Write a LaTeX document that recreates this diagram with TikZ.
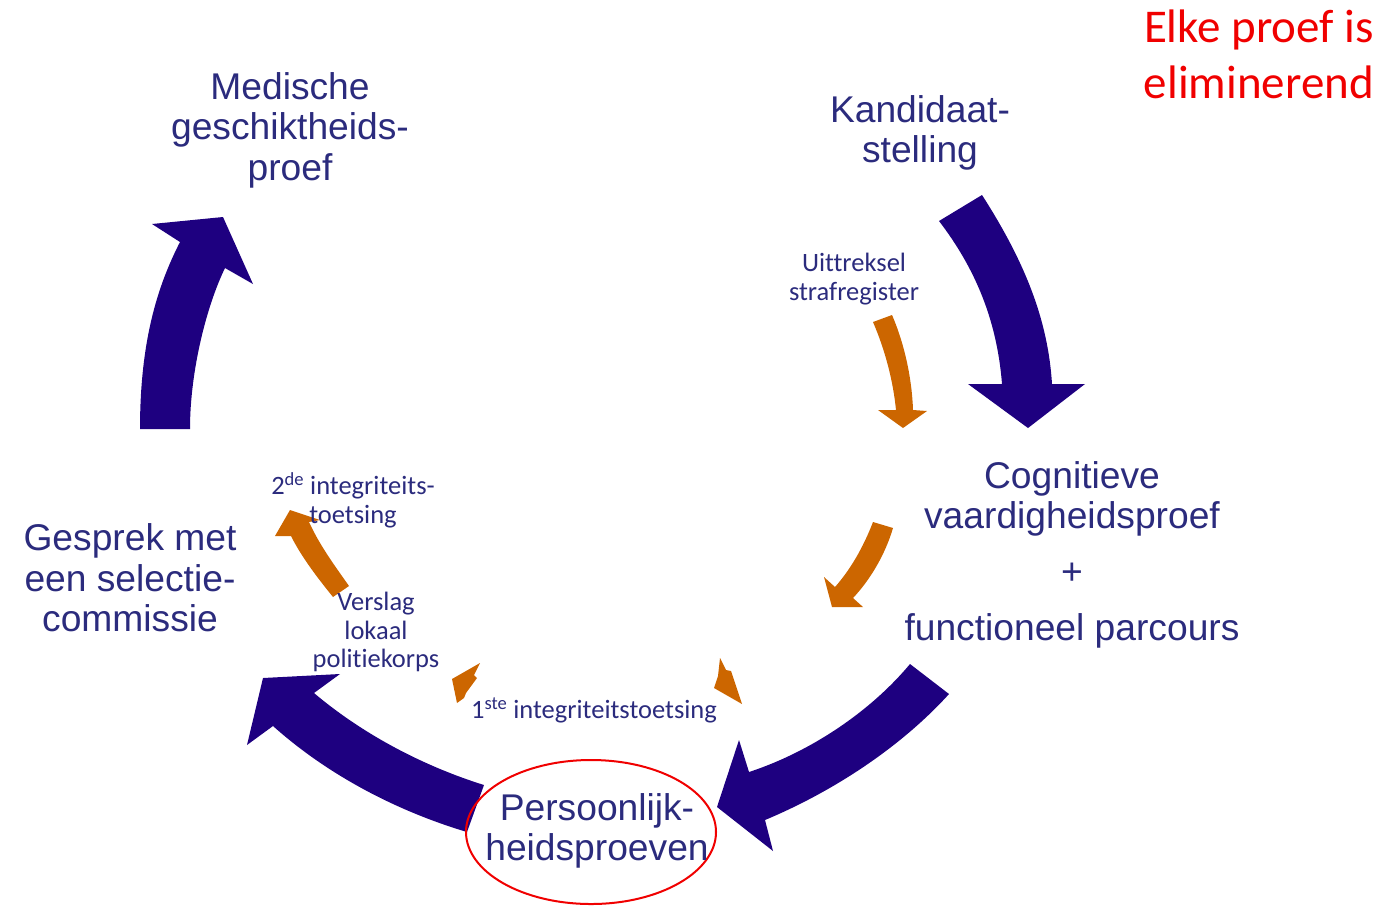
\documentclass[tikz,border=0pt]{standalone}
\usepackage{fontspec}
\setmainfont{Liberation Sans}
\newfontfamily\calfont[Ligatures=NoCommon]{Carlito}
\definecolor{navy}{RGB}{30,0,128}
\definecolor{txtblue}{RGB}{43,43,125}
\definecolor{orng}{RGB}{204,102,0}
\definecolor{redc}{RGB}{240,0,0}
\tikzset{
  big/.style={text=txtblue, align=center, inner sep=0pt, font=\fontsize{37.2}{40.5}\selectfont},
  small/.style={text=txtblue, align=center, inner sep=0pt, font=\calfont\fontsize{26.5}{28.8}\selectfont},
  navyarrow/.style={fill=navy, draw=none},
  orarrow/.style={fill=orng, draw=none}
}
\begin{document}
\begin{tikzpicture}[x=1pt,y=-1pt]
\useasboundingbox (0,0) rectangle (1383,906);
% big navy arrows
\fill[navyarrow] (140,429) .. controls (140,340) and (158,285) .. (180,242) -- (152,224) -- (223,217) -- (253,284) -- (225,268) .. controls (207,305) and (190,370) .. (190,429) -- cycle;
\fill[navyarrow] (939,221) -- (982,195) .. controls (1025,262) and (1048,320) .. (1052,384) -- (1085,384) -- (1028,428) -- (968,384) -- (1002,384) .. controls (997,320) and (975,268) .. (939,221) -- cycle;
\fill[navyarrow] (910,664) -- (949,694) .. controls (900,748) and (832,792) .. (765,820) -- (773,851) -- (717,807) -- (739,740) -- (749,772) .. controls (810,752) and (870,712) .. (910,664) -- cycle;
\fill[navyarrow] (484,785) .. controls (420,765) and (360,732) .. (314,693) -- (340,674) -- (263,678) -- (247,745) -- (273,726) .. controls (330,777) and (400,812) .. (467,832) -- cycle;
% orange arrows
\fill[orarrow] (873,322) -- (892,315) .. controls (905,345) and (912,380) .. (913,410) -- (927,411) -- (903,428) -- (878,410) -- (896,410) .. controls (893,380) and (885,350) .. (873,322) -- cycle;
\fill[orarrow] (873,522) -- (893,528) .. controls (885,555) and (870,580) .. (853,598) -- (863,607) -- (832,607) -- (824,577) -- (835,587) .. controls (850,570) and (863,548) .. (873,522) -- cycle;
\fill[orarrow] (333,597) .. controls (316,576) and (301,556) .. (291,536) -- (275,536) -- (290,510) -- (320,520) -- (309,522) .. controls (320,546) and (335,566) .. (349,586) -- cycle;
\fill[orarrow] (452,679) -- (480,663) -- (474,675) -- (477,678) -- (466,693) -- (464,698) -- (457,703) -- cycle;
\fill[orarrow] (720,658) -- (726,670) -- (731,671) -- (742,704) -- (714,688) -- (718,676) -- cycle;
% red ellipse
\draw[redc, line width=2pt] (591,832) ellipse [x radius=125, y radius=72];
% texts
\node[big] (med) at (290,130) {Medische\\geschiktheids-\\proef};
\node[big] (kand) at (920,133) {Kandidaat-\\stelling};
\node[big] (cog) at (1072,499) {Cognitieve\\vaardigheidsproef};
\node[big] (plus) at (1072,574) {+};
\node[big, anchor=base] (func) at (1072,640) {functioneel parcours};
\node[big] (gesp) at (130,578) {Gesprek met\\een selectie-\\commissie};
\node[big] (pers) at (597,831) {Persoonlijk-\\heidsproeven};
\node[text=redc, align=right, inner sep=0pt, anchor=east, font=\calfont\fontsize{47}{56}\selectfont] (elke) at (1374,54) {Elke proef is\\eliminerend};
\node[small] (uitt) at (854,279) {Uittreksel\\strafregister};
\node[small] (int2) at (353,500) {2\textsuperscript{de} integriteits-\\toetsing};
\node[small] (versl) at (376,632) {Verslag\\lokaal\\politiekorps};
\node[small] (int1) at (594,710) {1\textsuperscript{ste} integriteitstoetsing};
\end{tikzpicture}
\end{document}
